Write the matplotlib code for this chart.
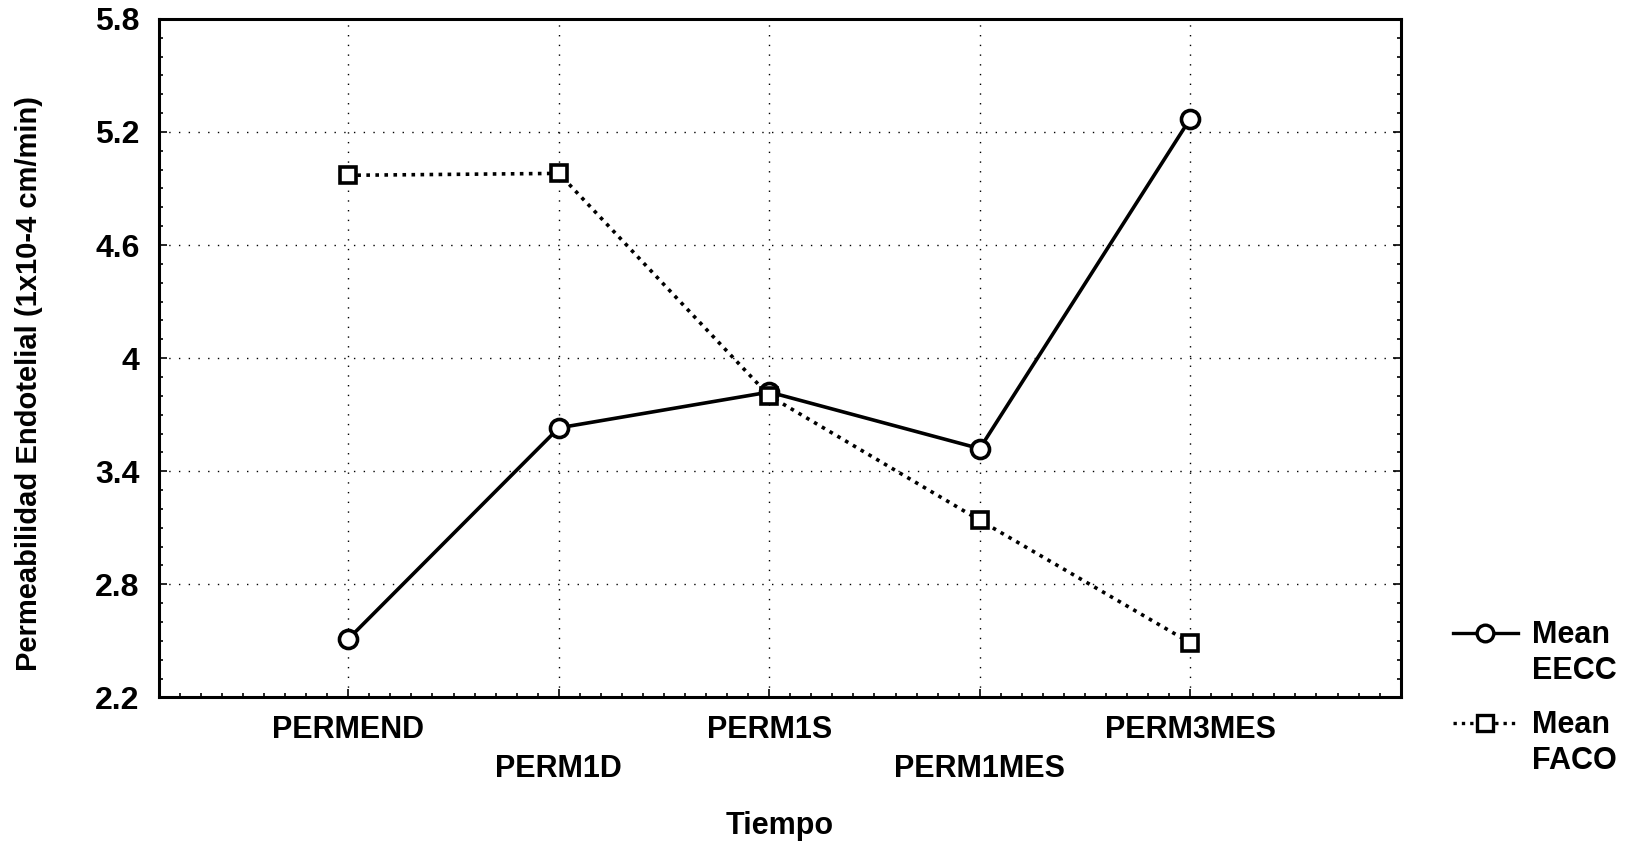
import matplotlib
matplotlib.use("Agg")
import matplotlib.pyplot as plt
from matplotlib.ticker import MultipleLocator, AutoMinorLocator
from matplotlib.lines import Line2D

categories = ["PERMEND", "PERM1D", "PERM1S", "PERM1MES", "PERM3MES"]
eecc = [2.51, 3.63, 3.82, 3.52, 5.27]
faco = [4.97, 4.98, 3.80, 3.14, 2.49]
yticks = [2.2, 2.8, 3.4, 4.0, 4.6, 5.2, 5.8]
ytick_labels = ["2.2", "2.8", "3.4", "4", "4.6", "5.2", "5.8"]
legend_labels = ["Mean\nEECC", "Mean\nFACO"]

plt.rcParams["font.family"] = ["Liberation Sans", "DejaVu Sans"]
plt.rcParams["font.weight"] = "bold"

W, H = 1568, 811  # layout measured on the shrunk reference

fig = plt.figure(figsize=(16.39, 8.48), dpi=100)
ax = fig.add_axes([152 / W, 1 - 667 / H, (1340 - 152) / W, (667 - 18) / H])

x = list(range(len(categories)))
dotted = (0, (1.0, 1.5))
ax.plot(x, eecc, color="black", lw=2.6, marker="o", ms=13, mfc="white",
        mec="black", mew=2.6, zorder=3)
ax.plot(x, faco, color="black", lw=2.6, ls=dotted, marker="s", ms=12,
        mfc="white", mec="black", mew=2.6, zorder=3)

ax.set_xlim(-0.9, 5.0)
ax.set_ylim(2.2, 5.8)
ax.set_yticks(yticks)
ax.set_yticklabels(ytick_labels, fontsize=23, fontweight="bold")
ax.set_xticks(x)
ax.set_xticklabels([])
for i, name in enumerate(categories):
    off = -0.048 if i % 2 == 0 else -0.105
    ax.text(i, off, name, transform=ax.get_xaxis_transform(), ha="center",
            va="center", fontsize=22, fontweight="bold")

ax.yaxis.set_minor_locator(AutoMinorLocator(6))
ax.xaxis.set_minor_locator(MultipleLocator(0.1))
ax.tick_params(which="both", direction="in", right=True, top=False, width=1.2)
ax.tick_params(which="major", length=6, pad=14)
ax.tick_params(which="minor", length=3)
for s in ax.spines.values():
    s.set_linewidth(2.2)

ax.grid(True, which="major", color="black", ls=(0, (1, 6)), lw=1)

fig.text(28 / W, 1 - 367 / H, "Permeabilidad Endotelial (1x10-4 cm/min)",
         rotation=90, ha="center", va="center", fontsize=21, fontweight="bold")
ax.text(0.5, -0.19, "Tiempo", transform=ax.transAxes, ha="center", va="center",
        fontsize=22, fontweight="bold")

# legend drawn by hand: the sample sits level with the first text line
styles = [dict(ls="-", marker="o", ms=12), dict(ls=dotted, marker="s", ms=11)]
for k, (lab, st) in enumerate(zip(legend_labels, styles)):
    yy = 1 - (605 + 86 * k) / H
    fig.add_artist(Line2D([1390 / W, 1452 / W], [yy, yy], color="black", lw=2.4,
                          ls=st["ls"], transform=fig.transFigure))
    fig.add_artist(Line2D([1421 / W], [yy], marker=st["marker"], ms=st["ms"],
                          mfc="white", mec="black", mew=2.4, ls="none",
                          transform=fig.transFigure))
    fig.text(1466 / W, yy + 12 / H, lab, ha="left", va="top", fontsize=22,
             fontweight="bold", linespacing=1.25)

fig.savefig("out.png", dpi=100)
